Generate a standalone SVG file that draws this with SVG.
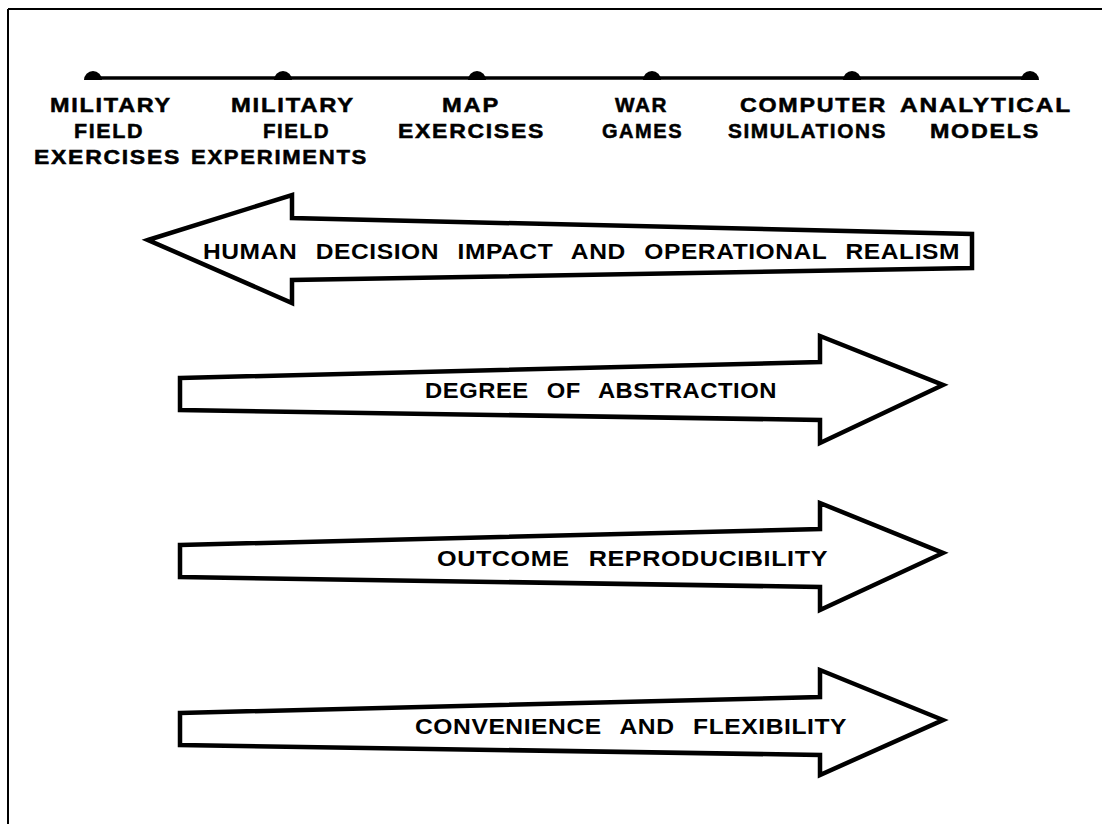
<svg xmlns="http://www.w3.org/2000/svg" width="1102" height="824" viewBox="0 0 1102 824">
<style>
.lbl{font-family:"Liberation Sans",Arial,sans-serif;font-weight:bold;font-size:20px;letter-spacing:1.5px;fill:#000;stroke:#000;stroke-width:0.5}
.atxt{font-family:"Liberation Sans",Arial,sans-serif;font-weight:bold;font-size:22px;word-spacing:10px;letter-spacing:0.5px;fill:#000}
.arrow{fill:#fff;stroke:#000;stroke-width:4.5;stroke-linejoin:miter}
.dot{fill:#000}
</style>
<rect width="1102" height="824" fill="#fff"/>
<g id="frame" fill="none" stroke="#000" stroke-width="2">
<line x1="8" y1="9" x2="1102" y2="9"/>
<line x1="8" y1="9" x2="8" y2="824"/>
</g>
<g id="connectors">
<line x1="86" y1="78" x2="1038" y2="78" stroke="#000" stroke-width="3.5"/>
</g>
<g id="node-mfe">
<path class="dot" d="M84,80 A9,9 0 0 1 102,80 Z"/>
<text class="lbl" x="50" y="112" textLength="122" lengthAdjust="spacingAndGlyphs">MILITARY</text>
<text class="lbl" x="74" y="138" textLength="70" lengthAdjust="spacingAndGlyphs">FIELD</text>
<text class="lbl" x="34" y="164" textLength="147" lengthAdjust="spacingAndGlyphs">EXERCISES</text>
</g>
<g id="node-mfx">
<path class="dot" d="M274,80 A9,9 0 0 1 292,80 Z"/>
<text class="lbl" x="231" y="112" textLength="124" lengthAdjust="spacingAndGlyphs">MILITARY</text>
<text class="lbl" x="263" y="138" textLength="67" lengthAdjust="spacingAndGlyphs">FIELD</text>
<text class="lbl" x="191" y="164" textLength="177" lengthAdjust="spacingAndGlyphs">EXPERIMENTS</text>
</g>
<g id="node-map">
<path class="dot" d="M468,80 A9,9 0 0 1 486,80 Z"/>
<text class="lbl" x="442" y="112" textLength="58" lengthAdjust="spacingAndGlyphs">MAP</text>
<text class="lbl" x="398" y="138" textLength="147" lengthAdjust="spacingAndGlyphs">EXERCISES</text>
</g>
<g id="node-war">
<path class="dot" d="M643,80 A9,9 0 0 1 661,80 Z"/>
<text class="lbl" x="615" y="112" textLength="53" lengthAdjust="spacingAndGlyphs">WAR</text>
<text class="lbl" x="602" y="138" textLength="81" lengthAdjust="spacingAndGlyphs">GAMES</text>
</g>
<g id="node-sim">
<path class="dot" d="M843,80 A9,9 0 0 1 861,80 Z"/>
<text class="lbl" x="740" y="112" textLength="147" lengthAdjust="spacingAndGlyphs">COMPUTER</text>
<text class="lbl" x="728" y="138" textLength="159" lengthAdjust="spacingAndGlyphs">SIMULATIONS</text>
</g>
<g id="node-ana">
<path class="dot" d="M1021,80 A9,9 0 0 1 1039,80 Z"/>
<text class="lbl" x="900" y="112" textLength="172" lengthAdjust="spacingAndGlyphs">ANALYTICAL</text>
<text class="lbl" x="930" y="138" textLength="110" lengthAdjust="spacingAndGlyphs">MODELS</text>
</g>
<g id="arrow-human">
<path class="arrow" d="M148,240 L292,195 L292,218 L972,234 L972,268 L292,280 L292,303 Z"/>
<text class="atxt" x="203" y="259" textLength="757" lengthAdjust="spacingAndGlyphs">HUMAN DECISION IMPACT AND OPERATIONAL REALISM</text>
</g>
<g id="arrow-abstraction">
<path class="arrow" d="M180,378 L820,362 L820,336 L943,385 L820,443 L820,420 L180,410 Z"/>
<text class="atxt" x="425" y="398" textLength="352" lengthAdjust="spacingAndGlyphs">DEGREE OF ABSTRACTION</text>
</g>
<g id="arrow-reproducibility">
<path class="arrow" d="M180,545 L820,529 L820,503 L943,553 L820,610 L820,587 L180,577 Z"/>
<text class="atxt" x="437" y="566" textLength="391" lengthAdjust="spacingAndGlyphs">OUTCOME REPRODUCIBILITY</text>
</g>
<g id="arrow-flexibility">
<path class="arrow" d="M180,713 L820,697 L820,670 L943,720 L820,775 L820,755 L180,745 Z"/>
<text class="atxt" x="415" y="734" textLength="432" lengthAdjust="spacingAndGlyphs">CONVENIENCE AND FLEXIBILITY</text>
</g>
</svg>
